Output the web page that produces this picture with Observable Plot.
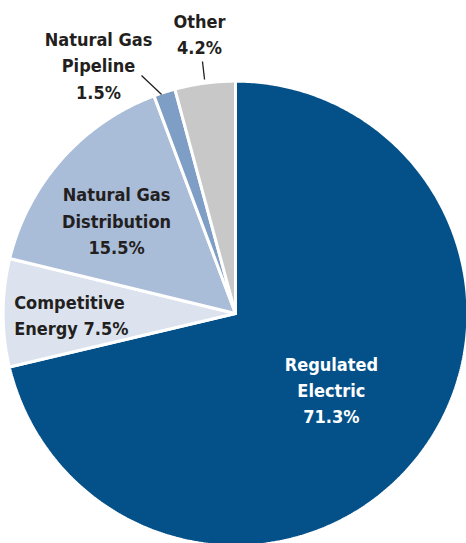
<!DOCTYPE html>
<html>
<head>
<meta charset="utf-8">
<script src="https://cdn.jsdelivr.net/npm/d3@7"></script>
<script src="https://cdn.jsdelivr.net/npm/@observablehq/plot@0.6"></script>
<style>
  html, body { margin: 0; padding: 0; background: #fff; overflow: hidden; }
</style>
</head>
<body>
<div id="chart"></div>
<script>
// ---- data ----
const categories = ["Regulated Electric", "Competitive Energy", "Natural Gas Distribution", "Natural Gas Pipeline", "Other"];
const shares = [71.3, 7.5, 15.5, 1.5, 4.2];
const labelTexts = ["Regulated\nElectric\n71.3%", "Competitive\nEnergy 7.5%", "Natural Gas\nDistribution\n15.5%", "Natural Gas\nPipeline\n1.5%", "Other\n4.2%"];

// ---- styling / layout (kept separate from data) ----
const colors = ["#04518a", "#dce3ef", "#a9bcd8", "#7f9ec5", "#c8c8c9"];
const textColors = ["#ffffff", "#231f20", "#231f20", "#231f20", "#231f20"];
const W = 466, H = 543, CX = 235, CY = 313, R = 231;
// label anchor positions in pie units (radius = 1, centre = 0,0, y up)
const labelPos = [
  {x: 0.415, y: -0.325, anchor: "middle"},
  {x: -0.958, y: 0.0, anchor: "start"},
  {x: -0.515, y: 0.407, anchor: "middle"},
  {x: -0.593, y: 1.080, anchor: "middle"},
  {x: -0.156, y: 1.216, anchor: "middle"}
];
const leaders = [
  {x1: -0.407, y1: 1.030, x2: -0.320, y2: 0.948},
  {x1: -0.143, y1: 1.091, x2: -0.134, y2: 1.013}
];

// ---- pie geometry through d3.pie ----
const arcs = d3.pie().sort(null).startAngle(0).endAngle(2 * Math.PI)(shares);
const outer = 1.006;
const polyPts = [];
arcs.forEach((a, i) => {
  const n = Math.max(4, Math.ceil((a.endAngle - a.startAngle) / 0.01));
  polyPts.push({k: categories[i], x: 0, y: 0});
  for (let j = 0; j <= n; j++) {
    const t = a.startAngle + (a.endAngle - a.startAngle) * j / n;
    polyPts.push({k: categories[i], x: outer * Math.sin(t), y: outer * Math.cos(t)});
  }
  polyPts.push({k: categories[i], x: 0, y: 0});
});

const labels = categories.map((c, i) => ({k: c, text: labelTexts[i], ...labelPos[i], color: textColors[i]}));

const font = "'DejaVu Sans Condensed', 'Liberation Sans', sans-serif";

const chart = Plot.plot({
  width: W,
  height: H,
  margin: 0,
  x: {domain: [-CX / R, (W - CX) / R], axis: null},
  y: {domain: [-(H - CY) / R, CY / R], axis: null},
  color: {domain: categories, range: colors},
  style: {fontFamily: font, background: "#fff"},
  marks: [
    Plot.line(polyPts, {x: "x", y: "y", z: "k", fill: "k", stroke: "#fff", strokeWidth: 3, strokeLinejoin: "miter", clip: true}),
    Plot.link(leaders, {x1: "x1", y1: "y1", x2: "x2", y2: "y2", stroke: "#231f20", strokeWidth: 1.3}),
    ...labels.map(l => Plot.text([l], {
      x: "x", y: "y", text: "text", fill: "color",
      textAnchor: l.anchor, lineAnchor: "middle", lineHeight: 1.47,
      fontSize: 18, fontWeight: "bold", fontFamily: font
    }))
  ]
});
document.getElementById("chart").appendChild(chart);
</script>
</body>
</html>
